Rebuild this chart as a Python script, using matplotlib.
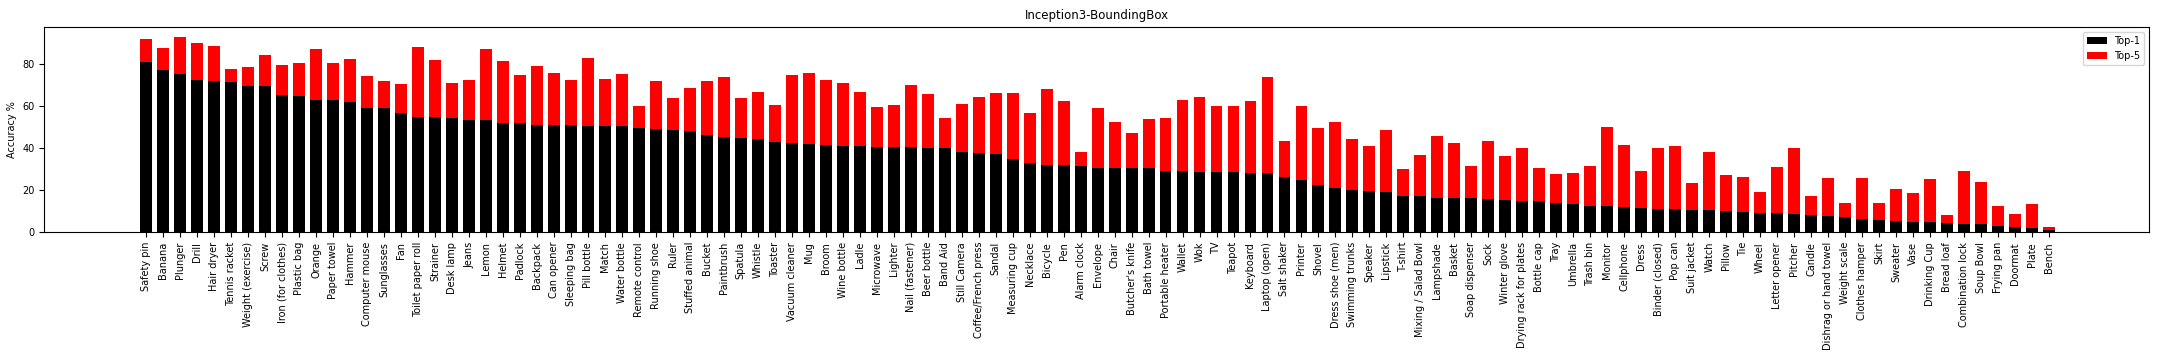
import matplotlib
matplotlib.use("Agg")
import matplotlib.pyplot as plt
import numpy as np

classes = [
    "Safety pin", "Banana", "Plunger", "Drill", "Hair dryer", "Tennis racket",
    "Weight (exercise)", "Screw", "Iron (for clothes)", "Plastic bag", "Orange",
    "Paper towel", "Hammer", "Computer mouse", "Sunglasses", "Fan",
    "Toilet paper roll", "Strainer", "Desk lamp", "Jeans", "Lemon", "Helmet",
    "Padlock", "Backpack", "Can opener", "Sleeping bag", "Pill bottle", "Match",
    "Water bottle", "Remote control", "Running shoe", "Ruler", "Stuffed animal",
    "Bucket", "Paintbrush", "Spatula", "Whistle", "Toaster", "Vacuum cleaner",
    "Mug", "Broom", "Wine bottle", "Ladle", "Microwave", "Lighter",
    "Nail (fastener)", "Beer bottle", "Band Aid", "Still Camera",
    "Coffee/French press", "Sandal", "Measuring cup", "Necklace", "Bicycle",
    "Pen", "Alarm clock", "Envelope", "Chair", "Butcher's knife", "Bath towel",
    "Portable heater", "Wallet", "Wok", "TV", "Teapot", "Keyboard",
    "Laptop (open)", "Salt shaker", "Printer", "Shovel", "Dress shoe (men)",
    "Swimming trunks", "Speaker", "Lipstick", "T-shirt", "Mixing / Salad Bowl",
    "Lampshade", "Basket", "Soap dispenser", "Sock", "Winter glove",
    "Drying rack for plates", "Bottle cap", "Tray", "Umbrella", "Trash bin",
    "Monitor", "Cellphone", "Dress", "Binder (closed)", "Pop can", "Suit jacket",
    "Watch", "Pillow", "Tie", "Wheel", "Letter opener", "Pitcher", "Candle",
    "Dishrag or hand towel", "Weight scale", "Clothes hamper", "Skirt",
    "Sweater", "Vase", "Drinking Cup", "Bread loaf", "Combination lock",
    "Soup Bowl", "Frying pan", "Doormat", "Plate", "Bench",
]

top1 = [
    81.1, 77.3, 75.4, 72.5, 72.1, 71.6, 69.7, 69.7, 65.2, 64.9, 63.0, 63.0,
    62.1, 59.2, 59.2, 56.8, 54.9, 54.9, 54.4, 53.5, 53.5, 52.1, 52.1, 51.1,
    51.1, 51.1, 50.6, 50.6, 50.6, 49.7, 49.2, 48.7, 48.3, 46.3, 45.4, 44.9,
    44.4, 43.0, 42.5, 42.1, 41.6, 41.1, 41.1, 40.6, 40.6, 40.6, 40.2, 40.2,
    38.3, 37.8, 37.3, 34.9, 33.0, 32.1, 32.1, 31.6, 30.6, 30.6, 30.6, 30.6,
    29.2, 29.2, 28.7, 28.7, 28.7, 28.3, 28.3, 26.3, 24.9, 22.5, 21.1, 20.2,
    19.7, 19.2, 17.3, 17.3, 16.3, 16.3, 16.3, 15.9, 15.4, 14.9, 14.9, 14.0,
    13.5, 12.5, 12.5, 12.1, 11.6, 11.1, 11.1, 10.6, 10.6, 10.2, 9.7, 9.2,
    9.2, 8.7, 8.3, 7.8, 7.3, 6.3, 5.9, 5.4, 4.9, 4.9, 4.4, 4.0, 4.0, 3.0,
    2.5, 2.1, 1.1,
]

top5 = [
    92.1, 87.8, 93.0, 90.2, 88.7, 77.8, 78.7, 84.4, 79.7, 80.6, 87.3, 80.6,
    82.5, 74.4, 72.1, 70.6, 88.3, 82.1, 71.1, 72.5, 87.3, 81.6, 74.9, 79.2,
    75.9, 72.5, 83.0, 73.0, 75.4, 60.2, 72.1, 64.0, 68.7, 72.1, 74.0, 64.0,
    66.8, 60.6, 74.9, 75.9, 72.5, 71.1, 66.8, 59.7, 60.6, 70.2, 65.9, 54.4,
    61.1, 64.4, 66.3, 66.3, 56.8, 68.3, 62.5, 38.3, 59.2, 52.5, 47.3, 54.0,
    54.4, 63.0, 64.4, 60.2, 60.2, 62.5, 74.0, 43.5, 60.2, 49.7, 52.5, 44.4,
    41.1, 48.7, 30.2, 36.8, 45.9, 42.5, 31.6, 43.5, 36.3, 40.2, 30.6, 27.8,
    28.3, 31.6, 50.2, 41.6, 29.2, 40.2, 41.1, 23.5, 38.3, 27.3, 26.3, 19.2,
    31.1, 40.2, 17.3, 25.9, 14.0, 25.9, 14.0, 20.6, 18.7, 25.4, 8.3, 29.2,
    24.0, 12.5, 8.7, 13.5, 2.5,
]

x = np.arange(len(classes))
t1 = np.array(top1)
t5 = np.array(top5)

fig, ax = plt.subplots(figsize=(21.6, 3.6), dpi=100)
fig.subplots_adjust(left=0.0205, right=0.995, top=0.924, bottom=0.355)

ax.bar(x, t1, width=0.7, color="black", label="Top-1")
ax.bar(x, t5 - t1, width=0.7, bottom=t1, color="red", label="Top-5")

ax.set_xticks(x)
ax.set_xticklabels(classes, rotation=90, fontsize=7)
ax.tick_params(axis="y", labelsize=7)
ax.set_xlim(-6, 117.9)
ax.set_ylim(0, 97.6)
ax.set_yticks([0, 20, 40, 60, 80])

ax.set_ylabel("Accuracy %", fontsize=7)
ax.set_title("Inception3-BoundingBox", fontsize=8.5)
ax.legend(loc="upper right", fontsize=7)

fig.savefig("out.png", dpi=100)
